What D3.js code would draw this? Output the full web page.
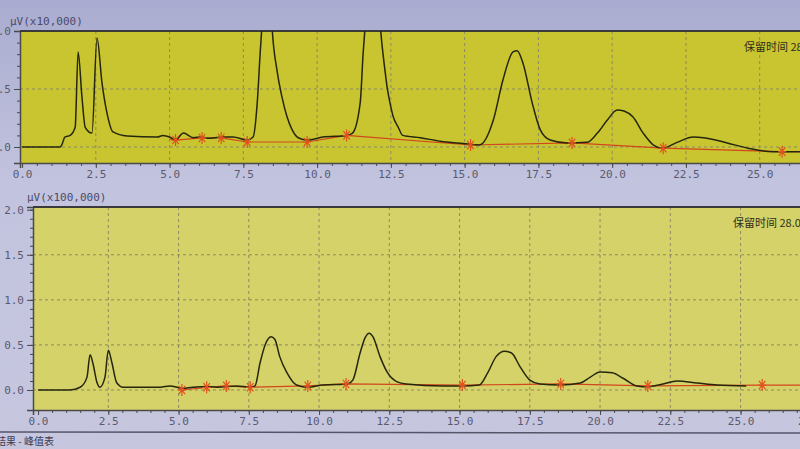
<!DOCTYPE html>
<html>
<head>
<meta charset="utf-8" />
<title>色谱图</title>
<script src="https://cdnjs.cloudflare.com/ajax/libs/d3/7.8.5/d3.min.js"></script>
<style>
	body {
		margin: 0;
		background: linear-gradient(#a9acd0, #c2c3de 40%, #c6c6df);
		overflow: hidden;
	}
	svg text {
		font-family: "DejaVu Sans Mono", monospace;
	}
	.grid line {
		stroke: #8c8a62;
		stroke-dasharray: 3,3;
		stroke-width: 1;
	}
	.axis text {
		fill: #5a5a70;
		font-size: 11px;
	}
	.axis path, .axis line {
		stroke: #4a4a4a;
	}
</style>
</head>
<body>
<svg id="chart" width="800" height="449"></svg>
<script>
// retention time ticks (min)
const xTicks = [0, 2.5, 5, 7.5, 10, 12.5, 15, 17.5, 20, 22.5, 25, 27.5];
const topYTicks = [0, 0.5, 1.0];
const bottomYTicks = [0, 0.5, 1.0, 1.5, 2.0];

// upper chromatogram, µV x10,000  [time, signal]
const topTrace = [
	[0,0],[1.29,0],[1.35,0.02],[1.45,0.086],[1.63,0.1],[1.8,0.17],[1.9,0.82],[2.03,0.43],[2.14,0.17],
	[2.37,0.12],[2.54,0.94],[2.71,0.55],[2.88,0.29],[3.08,0.13],[3.56,0.095],[4.58,0.086],[4.78,0.10],
	[5.0,0.086],[5.2,0.06],[5.47,0.12],[5.8,0.08],[6.1,0.086],[6.3,0.075],[6.78,0.086],[7.15,0.086],
	[7.63,0.06],[7.83,0.086],[7.97,0.38],[8.07,0.81],[8.13,1.05],[8.3,2.2],[8.47,1.05],
	[8.64,0.66],[8.81,0.43],[8.98,0.26],[9.15,0.15],[9.36,0.08],[9.66,0.06],[10.2,0.086],[11.0,0.10],
	[11.2,0.12],[11.46,0.38],[11.56,0.81],[11.63,1.05],[11.88,2.4],[12.14,1.05],[12.3,0.66],
	[12.37,0.52],[12.47,0.38],[12.58,0.26],[12.75,0.17],[12.9,0.10],[13.5,0.08],[14.17,0.05],
	[14.95,0.03],[15.5,0.017],[15.97,0.23],[16.3,0.58],[16.64,0.82],[16.78,0.83],[16.98,0.72],
	[17.29,0.38],[17.56,0.15],[17.9,0.06],[18.47,0.035],[19.15,0.04],[19.5,0.12],[19.83,0.23],
	[20.17,0.32],[20.4,0.31],[20.7,0.26],[21.05,0.12],[21.4,0.017],[21.7,-0.01],[22.2,0.04],
	[22.75,0.086],[23.1,0.08],[23.9,0.035],[24.6,-0.01],[25.45,-0.04],[26.4,-0.04]
];
const topMarkers = [
	[5.2,0.06],[6.1,0.078],[6.75,0.078],[7.63,0.043],[9.66,0.043],[11.0,0.10],
	[15.2,0.017],[18.64,0.035],[21.73,-0.01],[25.76,-0.04]
];
const topBaseline = [[5.0,0.07]].concat(topMarkers, [[26.4,-0.04]]);

// lower chromatogram, µV x100,000
const bottomTrace = [
	[0,0],[1.14,0],[1.5,0.03],[1.74,0.14],[1.85,0.39],[1.95,0.3],[2.1,0.08],[2.2,0.03],[2.38,0.14],
	[2.5,0.44],[2.63,0.3],[2.8,0.08],[3.03,0.03],[4.34,0.03],[4.7,0.045],[5.12,0.02],[5.5,0.03],
	[6.0,0.04],[6.37,0.03],[7.08,0.045],[7.54,0.03],[7.72,0.045],[7.9,0.3],[8.08,0.5],[8.29,0.59],
	[8.43,0.56],[8.6,0.37],[8.86,0.19],[9.2,0.055],[9.6,0.03],[10.14,0.055],[11.0,0.067],[11.2,0.11],
	[11.46,0.41],[11.64,0.58],[11.78,0.63],[11.92,0.59],[12.17,0.37],[12.42,0.2],[12.78,0.09],
	[13.1,0.067],[14.4,0.045],[15.1,0.045],[15.7,0.055],[16.0,0.19],[16.3,0.37],[16.6,0.43],
	[16.85,0.41],[17.15,0.26],[17.5,0.11],[17.86,0.067],[18.58,0.055],[19.3,0.078],[19.64,0.14],
	[20.0,0.2],[20.43,0.19],[20.82,0.13],[21.3,0.045],[21.7,0.035],[22.24,0.067],[22.74,0.1],
	[23.45,0.078],[24.16,0.055],[25.2,0.045]
];
const bottomMarkers = [
	[5.12,0.0],[6.0,0.03],[6.7,0.045],[7.55,0.03],[9.6,0.045],[10.96,0.067],
	[15.1,0.055],[18.6,0.067],[21.7,0.045],[25.77,0.055]
];
const bottomBaseline = [[5.0,0.02]].concat(bottomMarkers, [[27.4,0.055]]);

const svg = d3.select("#chart");

// asterisk used by the integrator to mark peak start/end
function asterisk(w, h) {
	return `M0,${-h}L0,${h}M${-w},0L${w},0M${-w*0.8},${-h*0.7}L${w*0.8},${h*0.7}M${-w*0.8},${h*0.7}L${w*0.8},${-h*0.7}`;
}

function drawPanel(p) {
	let x = d3.scaleLinear().domain(p.xDomain).range([p.left, p.right]);
	let y = d3.scaleLinear().domain(p.yDomain).range([p.bottom, p.top]);
	let g = svg.append("g");

	g.append("rect")
		.attr("x", p.left).attr("y", p.top)
		.attr("width", p.right - p.left).attr("height", p.bottom - p.top)
		.attr("fill", p.fill);

	let clipId = "clip" + p.id;
	g.append("clipPath").attr("id", clipId)
		.append("rect")
		.attr("x", p.left).attr("y", p.top)
		.attr("width", p.right - p.left).attr("height", p.bottom - p.top);

	// dashed grid
	g.append("g").attr("class", "grid")
		.selectAll("line").data(xTicks.filter(d => d > 0))
		.join("line")
		.attr("x1", d => x(d)).attr("x2", d => x(d))
		.attr("y1", p.top).attr("y2", p.bottom);
	g.append("g").attr("class", "grid")
		.selectAll("line").data(p.yTicks.filter(d => d > p.yDomain[0] && d < p.yDomain[1] - 0.05))
		.join("line")
		.attr("x1", p.left).attr("x2", p.right)
		.attr("y1", d => y(d)).attr("y2", d => y(d));

	// axes
	let minorX = d3.range(0, 28, 0.5);
	g.append("g").attr("class", "axis")
		.attr("transform", `translate(0,${p.bottom})`)
		.call(d3.axisBottom(x).tickValues(minorX).tickSize(3).tickFormat(""))
		.select(".domain").remove();
	g.append("g").attr("class", "axis")
		.attr("transform", `translate(0,${p.bottom})`)
		.call(d3.axisBottom(x).tickValues(xTicks).tickSize(5).tickPadding(2).tickFormat(d3.format(".1f")))
		.select(".domain").attr("stroke-width", 1.5);

	let minorY = d3.range(p.yTicks[0], p.yTicks[p.yTicks.length - 1] + 0.01, 0.1);
	g.append("g").attr("class", "axis")
		.attr("transform", `translate(${p.left},0)`)
		.call(d3.axisLeft(y).tickValues(minorY).tickSize(3).tickFormat(""))
		.select(".domain").remove();
	g.append("g").attr("class", "axis")
		.attr("transform", `translate(${p.left},0)`)
		.call(d3.axisLeft(y).tickValues(p.yTicks).tickSize(6).tickPadding(3).tickFormat(d3.format(".1f")))
		.select(".domain").attr("stroke-width", 1.5);

	// top frame edge
	g.append("line")
		.attr("x1", p.left).attr("x2", p.right)
		.attr("y1", p.top).attr("y2", p.top)
		.attr("stroke", "#3a3a3a").attr("stroke-width", 2);

	let line = d3.line()
		.x(d => x(d[0])).y(d => y(d[1]))
		.curve(d3.curveMonotoneX);

	let plot = g.append("g").attr("clip-path", `url(#${clipId})`);
	plot.append("path")
		.datum(p.baseline)
		.attr("d", d3.line().x(d => x(d[0])).y(d => y(d[1])))
		.attr("fill", "none")
		.attr("stroke", "#d2461c")
		.attr("stroke-width", 1.2);
	plot.append("path")
		.datum(p.trace)
		.attr("d", line)
		.attr("fill", "none")
		.attr("stroke", "#26260e")
		.attr("stroke-width", 1.5);
	plot.selectAll(".marker")
		.data(p.markers)
		.join("path")
		.attr("class", "marker")
		.attr("transform", d => `translate(${x(d[0])},${y(d[1])})`)
		.attr("d", asterisk(4, 6))
		.attr("stroke", "#e0521e")
		.attr("stroke-width", 1.2)
		.attr("fill", "none");

	// unit label and retention-time readout
	g.append("text")
		.attr("x", p.unitX).attr("y", p.top - 6)
		.attr("font-size", 11).attr("fill", "#4a4a6a")
		.text(p.unit);
	g.append("text")
		.attr("x", p.rtX).attr("y", p.top + 20)
		.attr("font-size", 11).attr("fill", "#2e2e1a")
		.style("font-family", "'Noto Sans CJK SC', sans-serif")
		.text("保留时间 28.0");
}

drawPanel({
	id: "top", left: 20, right: 801, top: 31, bottom: 163,
	xDomain: [-0.07, 26.4], yDomain: [-0.138, 1.0],
	yTicks: topYTicks, fill: "#c8c530",
	trace: topTrace, markers: topMarkers, baseline: topBaseline,
	unit: "µV(x10,000)", unitX: 10, rtX: 744
});

drawPanel({
	id: "bottom", left: 33, right: 808, top: 207, bottom: 410,
	xDomain: [-0.18, 27.4], yDomain: [-0.222, 2.03],
	yTicks: bottomYTicks, fill: "#d4d268",
	trace: bottomTrace, markers: bottomMarkers, baseline: bottomBaseline,
	unit: "µV(x100,000)", unitX: 27, rtX: 733
});

// footer of the results window
svg.append("line")
	.attr("x1", 0).attr("x2", 800).attr("y1", 432).attr("y2", 433)
	.attr("stroke", "#55556a").attr("stroke-width", 1.5);
svg.append("text")
	.attr("x", -4).attr("y", 445)
	.attr("font-size", 10).attr("fill", "#3a3a50")
	.style("font-family", "'Noto Sans CJK SC', sans-serif")
	.text("结果 - 峰值表");
</script>
</body>
</html>
